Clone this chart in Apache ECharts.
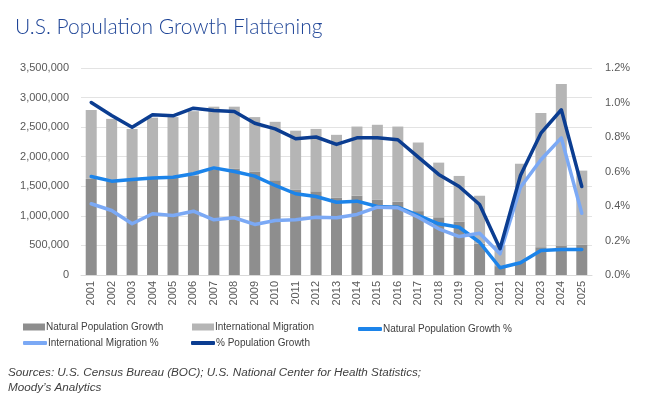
<!DOCTYPE html>
<html>
<head>
<meta charset="utf-8">
<script src="https://cdn.jsdelivr.net/npm/echarts@6/dist/echarts.min.js"></script>
<style>
    html, body { margin: 0; padding: 0; background: #fff; }
    #container { width: 650px; height: 400px; }
</style>
</head>
<body>
<div id="container"></div>
<script>
// 年份
var years = ['2001', '2002', '2003', '2004', '2005', '2006', '2007', '2008', '2009', '2010',
    '2011', '2012', '2013', '2014', '2015', '2016', '2017', '2018', '2019', '2020',
    '2021', '2022', '2023', '2024', '2025'];

// 柱：人数
var naturalGrowth = [1625000, 1585000, 1610000, 1625000, 1640000, 1680000, 1790000, 1800000, 1750000, 1600000,
    1440000, 1415000, 1310000, 1340000, 1270000, 1240000, 1080000, 976000, 900000, 530000,
    150000, 220000, 470000, 500000, 515000];
var migration = [1165000, 1055000, 860000, 1035000, 1030000, 1090000, 1056000, 1046000, 920000, 990000,
    1000000, 1055000, 1060000, 1170000, 1270000, 1270000, 1160000, 924000, 775000, 810000,
    350000, 1660000, 2270000, 2730000, 1250000];

// 线：百分比
var naturalPct = [0.571, 0.544, 0.554, 0.563, 0.567, 0.587, 0.621, 0.600, 0.573, 0.519,
    0.471, 0.455, 0.422, 0.428, 0.397, 0.393, 0.345, 0.297, 0.277, 0.190,
    0.042, 0.071, 0.142, 0.148, 0.148];
var migrationPct = [0.413, 0.374, 0.297, 0.355, 0.345, 0.370, 0.320, 0.332, 0.293, 0.316,
    0.320, 0.335, 0.332, 0.351, 0.393, 0.390, 0.335, 0.268, 0.223, 0.242,
    0.123, 0.509, 0.668, 0.795, 0.358];
var popGrowthPct = [1.000, 0.925, 0.857, 0.929, 0.923, 0.967, 0.954, 0.948, 0.880, 0.847,
    0.790, 0.800, 0.757, 0.795, 0.795, 0.784, 0.683, 0.583, 0.513, 0.409,
    0.152, 0.577, 0.822, 0.958, 0.513];

var fontFamily = '"Liberation Sans", Arial, sans-serif';
var labelColor = '#595959';

var myChart = echarts.init(document.getElementById('container'));

var lineSeries = function (name, values, color, width) {
    return {
        name: name,
        type: 'line',
        yAxisIndex: 1,
        data: values,
        symbol: 'none',
        lineStyle: { color: color, width: width, cap: 'round', join: 'round' },
        itemStyle: { color: color }
    };
};

// 图例：每项单独放，模仿三列布局
var legendItem = function (name, left, top, isLine) {
    return {
        left: left, top: top, padding: 0, itemGap: 0,
        itemWidth: isLine ? 24 : 22,
        itemHeight: isLine ? 4 : 7,
        icon: isLine ? 'roundRect' : 'rect',
        textStyle: { color: '#404040', fontSize: 10, fontFamily: fontFamily, padding: [0, 0, 0, -4] },
        data: [name]
    };
};

var option = {
    backgroundColor: '#fff',
    animation: false,
    title: [{
        text: 'U.S. Population Growth Flattening',
        left: 10,
        top: 12,
        textStyle: { color: '#1f4597', fontSize: 21, fontWeight: 300, fontFamily: 'Lato, sans-serif' }
    }, {
        text: 'Sources: U.S. Census Bureau (BOC); U.S. National Center for Health Statistics;\nMoody\u2019s Analytics',
        left: 3,
        top: 360,
        textStyle: {
            color: '#404040', fontSize: 11.7, fontStyle: 'italic', fontWeight: 'normal',
            fontFamily: fontFamily, lineHeight: 15
        }
    }],
    legend: [
        legendItem('Natural Population Growth', 23, 322, false),
        legendItem('International Migration %', 23, 338, true),
        legendItem('International Migration', 192, 322, false),
        legendItem('% Population Growth', 191, 338, true),
        legendItem('Natural Population Growth %', 358, 324, true)
    ],
    grid: { left: 81, right: 58, top: 68, bottom: 125 },
    xAxis: {
        type: 'category',
        data: years,
        axisLine: { lineStyle: { color: '#d9d9d9' } },
        axisTick: { show: false },
        axisLabel: { rotate: 90, color: labelColor, fontSize: 11, fontFamily: fontFamily, margin: 6 }
    },
    yAxis: [{
        type: 'value',
        min: 0, max: 3500000, interval: 500000,
        axisLine: { show: false },
        axisTick: { show: false },
        splitLine: { lineStyle: { color: '#e3e3e3' } },
        axisLabel: {
            color: labelColor, fontSize: 11, fontFamily: fontFamily, margin: 12,
            formatter: function (v) { return v.toLocaleString('en-US'); }
        }
    }, {
        type: 'value',
        min: 0, max: 1.2, interval: 0.2,
        axisLine: { show: false },
        axisTick: { show: false },
        splitLine: { show: false },
        axisLabel: {
            color: labelColor, fontSize: 11, fontFamily: fontFamily, margin: 13,
            formatter: function (v) { return v.toFixed(1) + '%'; }
        }
    }],
    series: [{
        name: 'Natural Population Growth',
        type: 'bar',
        stack: 'pop',
        barWidth: 11,
        data: naturalGrowth,
        itemStyle: { color: '#8e8e8e' }
    }, {
        name: 'International Migration',
        type: 'bar',
        stack: 'pop',
        barWidth: 11,
        data: migration,
        itemStyle: { color: '#b5b5b5' }
    },
        lineSeries('Natural Population Growth %', naturalPct, '#1c84ea', 3.5),
        lineSeries('International Migration %', migrationPct, '#7ba9f5', 3.5),
        lineSeries('% Population Growth', popGrowthPct, '#0b3d91', 3.5)
    ]
};
myChart.setOption(option);
</script>
</body>
</html>
